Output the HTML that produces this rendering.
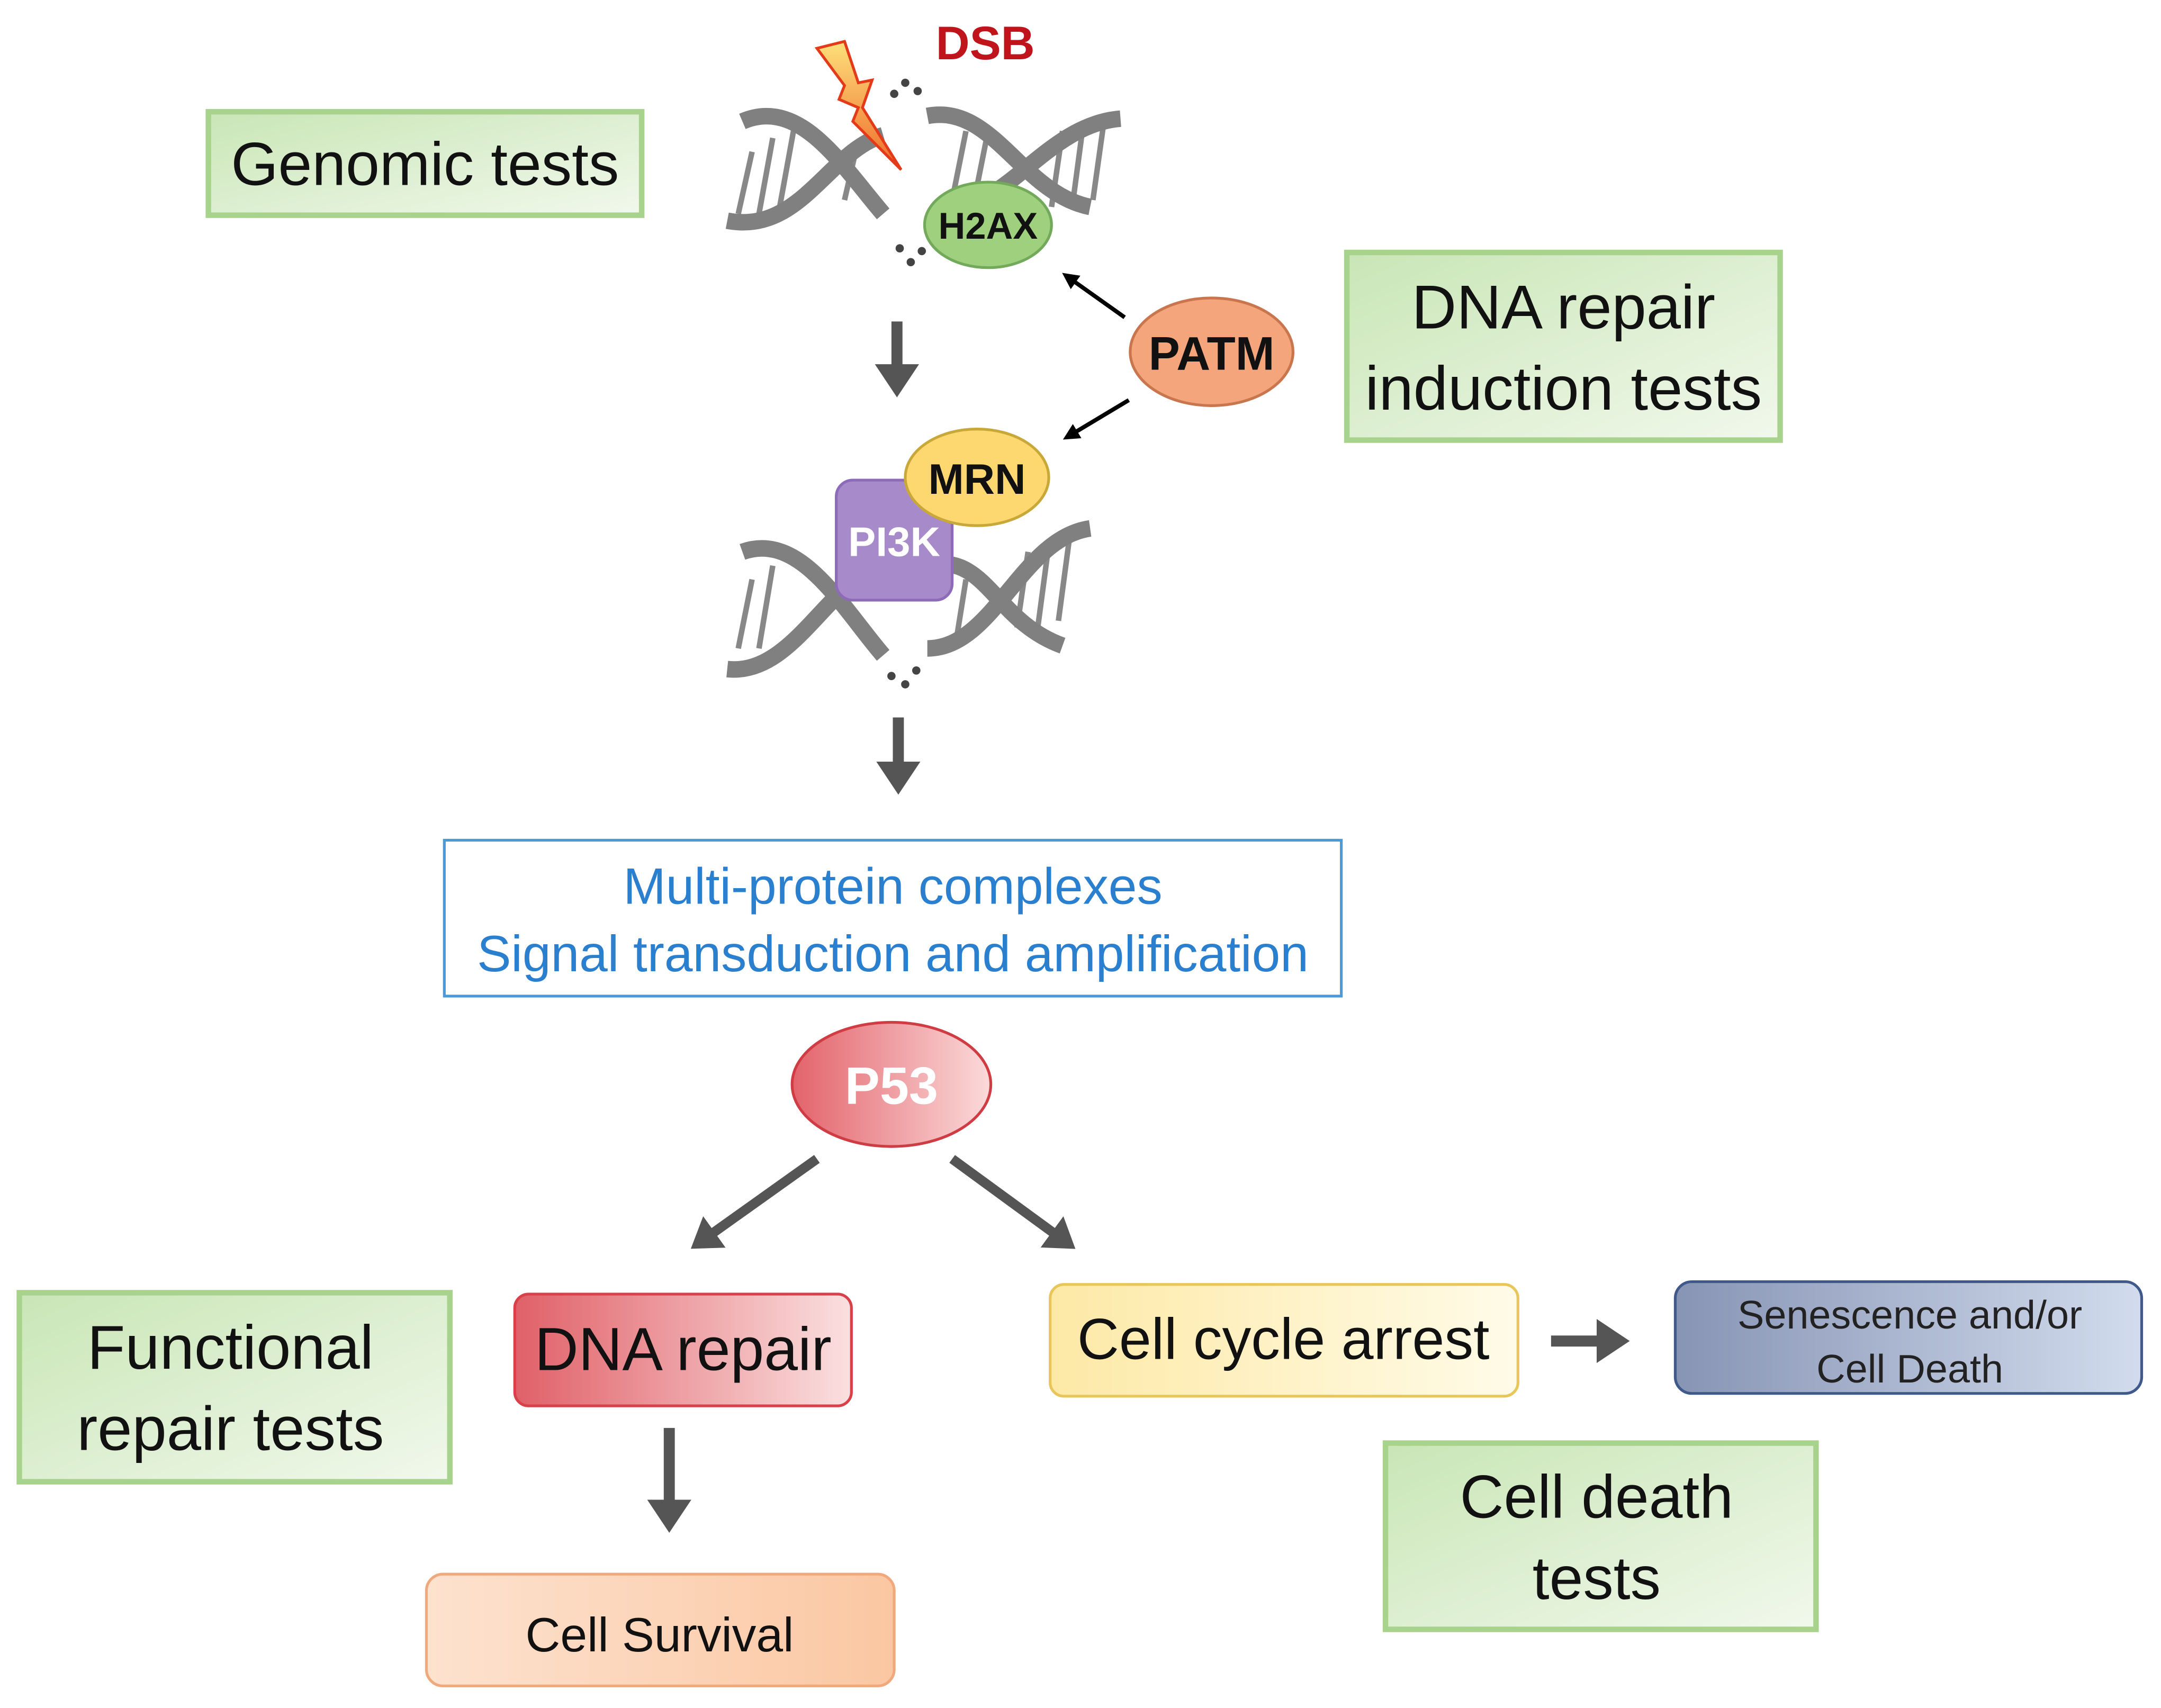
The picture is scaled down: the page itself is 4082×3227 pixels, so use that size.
<!DOCTYPE html>
<html><head><meta charset="utf-8"><style>html,body{margin:0;padding:0;background:#fff}svg{display:block}</style></head>
<body>
<svg width="4082" height="3227" viewBox="0 0 1566 1238" preserveAspectRatio="none" xmlns="http://www.w3.org/2000/svg" font-family="Liberation Sans, sans-serif">
<defs>
<linearGradient id="gr" x1="0" x2="1" y1="0" y2="1"><stop offset="0" stop-color="#c9e6b6"/><stop offset="1" stop-color="#f1f8ec"/></linearGradient>
<linearGradient id="red" x1="0" x2="1"><stop offset="0" stop-color="#e06068"/><stop offset="1" stop-color="#fbe0e0"/></linearGradient>
<linearGradient id="yel" x1="0" x2="1"><stop offset="0" stop-color="#fde9a6"/><stop offset="1" stop-color="#fffbe8"/></linearGradient>
<linearGradient id="org" x1="0" x2="1"><stop offset="0" stop-color="#fde2cf"/><stop offset="1" stop-color="#fbc7a2"/></linearGradient>
<linearGradient id="blu" x1="0" x2="1"><stop offset="0" stop-color="#8794b4"/><stop offset="1" stop-color="#d2dcee"/></linearGradient>
<linearGradient id="p53" x1="0" x2="1"><stop offset="0" stop-color="#e3636b"/><stop offset="1" stop-color="#fbdada"/></linearGradient>
<linearGradient id="bolt" x1="0" x2="0" y1="0" y2="1"><stop offset="0" stop-color="#fde07a"/><stop offset="1" stop-color="#ef6a2a"/></linearGradient>
<marker id="ah" markerWidth="4" markerHeight="4" refX="1" refY="2" orient="auto" markerUnits="strokeWidth"><path d="M0,0 L3,2 L0,4z" fill="#555"/></marker>
<marker id="ahb" markerWidth="5" markerHeight="5" refX="1" refY="2.5" orient="auto" markerUnits="strokeWidth"><path d="M0,0.5 L4,2.5 L0,4.5z" fill="#000"/></marker>
</defs>

<rect x="151" y="81" width="314" height="75" fill="url(#gr)" stroke="#a8d38d" stroke-width="4"/>
<text x="308" y="134" font-size="44" text-anchor="middle" fill="#111">Genomic tests</text>
<rect x="976" y="183" width="314" height="136" fill="url(#gr)" stroke="#a8d38d" stroke-width="4"/>
<text x="1133" y="238" font-size="45" text-anchor="middle" fill="#111">DNA repair</text>
<text x="1133" y="297" font-size="45" text-anchor="middle" fill="#111">induction tests</text>
<rect x="14" y="937" width="312" height="137" fill="url(#gr)" stroke="#a8d38d" stroke-width="4"/>
<text x="167" y="992" font-size="45" text-anchor="middle" fill="#111">Functional</text>
<text x="167" y="1051" font-size="45" text-anchor="middle" fill="#111">repair tests</text>
<rect x="1004" y="1046" width="312" height="135" fill="url(#gr)" stroke="#a8d38d" stroke-width="4"/>
<text x="1157" y="1100" font-size="44" text-anchor="middle" fill="#111">Cell death</text>
<text x="1157" y="1159" font-size="44" text-anchor="middle" fill="#111">tests</text>

<text x="714" y="43" font-size="34" font-weight="bold" text-anchor="middle" fill="#c0141c">DSB</text>

<g stroke="#888" stroke-width="4">
<line x1="545" y1="110" x2="535" y2="155"/><line x1="560" y1="100" x2="550" y2="155"/><line x1="575" y1="95" x2="565" y2="150"/><line x1="620" y1="110" x2="612" y2="145"/>
<line x1="700" y1="95" x2="690" y2="145"/><line x1="715" y1="100" x2="705" y2="150"/><line x1="770" y1="95" x2="762" y2="150"/><line x1="785" y1="90" x2="777" y2="150"/><line x1="800" y1="88" x2="792" y2="145"/>
</g>
<g fill="none" stroke="#808080" stroke-width="12" stroke-linecap="butt">
<path d="M538,88 C580,70 610,120 640,155"/>
<path d="M527,160 C580,170 600,110 640,98"/>
<path d="M672,84 C720,75 740,140 790,150"/>
<path d="M690,150 C730,150 760,90 812,86"/>
</g>
<path d="M592,35 L612,30 L622,60 L632,58 L625,78 L653,123 L618,88 L622,78 L608,72 L612,62 Z" fill="url(#bolt)" stroke="#e33a1a" stroke-width="2"/>
<g fill="#444"><circle cx="648" cy="68" r="3"/><circle cx="656" cy="60" r="3"/><circle cx="665" cy="66" r="3"/><circle cx="652" cy="180" r="3"/><circle cx="660" cy="190" r="3"/><circle cx="668" cy="182" r="3"/></g>
<ellipse cx="716" cy="163" rx="46" ry="31" fill="#9fd07e" stroke="#72a95a" stroke-width="2"/>
<text x="716" y="173" font-size="27" font-weight="bold" text-anchor="middle" fill="#111">H2AX</text>

<ellipse cx="878" cy="255" rx="59" ry="39" fill="#f4a57c" stroke="#c9764e" stroke-width="2"/>
<text x="878" y="268" font-size="34" font-weight="bold" text-anchor="middle" fill="#111">PATM</text>
<line x1="815" y1="230" x2="777" y2="203" stroke="#000" stroke-width="3" marker-end="url(#ahb)"/>
<line x1="818" y1="290" x2="778" y2="314" stroke="#000" stroke-width="3" marker-end="url(#ahb)"/>

<line x1="650" y1="233" x2="650" y2="272" stroke="#555" stroke-width="8" marker-end="url(#ah)"/>

<g stroke="#888" stroke-width="4">
<line x1="545" y1="420" x2="535" y2="470"/><line x1="560" y1="410" x2="550" y2="470"/><line x1="700" y1="420" x2="692" y2="470"/><line x1="745" y1="400" x2="737" y2="455"/><line x1="760" y1="395" x2="752" y2="455"/><line x1="775" y1="390" x2="767" y2="450"/>
</g>
<g fill="none" stroke="#808080" stroke-width="12">
<path d="M538,400 C580,385 610,440 640,475"/>
<path d="M527,485 C575,490 600,420 640,410"/>
<path d="M672,410 C715,400 720,450 770,468"/>
<path d="M672,470 C720,470 740,390 790,383"/>
</g>
<g fill="#444"><circle cx="646" cy="490" r="3"/><circle cx="656" cy="496" r="3"/><circle cx="664" cy="486" r="3"/></g>
<rect x="606" y="348" width="84" height="87" rx="12" fill="#a78ac9" stroke="#8d6bb8" stroke-width="2"/>
<text x="648" y="403" font-size="30" font-weight="bold" text-anchor="middle" fill="#fff">PI3K</text>
<ellipse cx="708" cy="346" rx="52" ry="35" fill="#fdd870" stroke="#c9a83a" stroke-width="2"/>
<text x="708" y="358" font-size="31" font-weight="bold" text-anchor="middle" fill="#111">MRN</text>

<line x1="651" y1="520" x2="651" y2="560" stroke="#555" stroke-width="8" marker-end="url(#ah)"/>

<rect x="322" y="609" width="650" height="113" fill="#fff" stroke="#4a9ad8" stroke-width="2"/>
<text x="647" y="655" font-size="37" text-anchor="middle" fill="#2a7fcf">Multi-protein complexes</text>
<text x="647" y="704" font-size="37" text-anchor="middle" fill="#2a7fcf">Signal transduction and amplification</text>

<ellipse cx="646" cy="786" rx="72" ry="45" fill="url(#p53)" stroke="#cf3c44" stroke-width="2"/>
<text x="646" y="800" font-size="38" font-weight="bold" text-anchor="middle" fill="#fff">P53</text>
<line x1="592" y1="840" x2="512" y2="897" stroke="#555" stroke-width="7" marker-end="url(#ah)"/>
<line x1="690" y1="840" x2="768" y2="897" stroke="#555" stroke-width="7" marker-end="url(#ah)"/>

<rect x="373" y="938" width="244" height="81" rx="10" fill="url(#red)" stroke="#d8414a" stroke-width="2"/>
<text x="495" y="993" font-size="44" text-anchor="middle" fill="#111">DNA repair</text>
<line x1="485" y1="1035" x2="485" y2="1095" stroke="#555" stroke-width="8" marker-end="url(#ah)"/>
<rect x="309" y="1141" width="339" height="81" rx="12" fill="url(#org)" stroke="#f0a97c" stroke-width="2"/>
<text x="478" y="1197" font-size="35" text-anchor="middle" fill="#111">Cell Survival</text>

<rect x="761" y="931" width="339" height="81" rx="10" fill="url(#yel)" stroke="#e9c65a" stroke-width="2"/>
<text x="930" y="985" font-size="42" text-anchor="middle" fill="#111">Cell cycle arrest</text>
<line x1="1124" y1="972" x2="1165" y2="972" stroke="#555" stroke-width="8" marker-end="url(#ah)"/>
<rect x="1214" y="929" width="338" height="81" rx="12" fill="url(#blu)" stroke="#3f5a8a" stroke-width="2"/>
<text x="1384" y="963" font-size="29" text-anchor="middle" fill="#222">Senescence and/or</text>
<text x="1384" y="1002" font-size="29" text-anchor="middle" fill="#222">Cell Death</text>
</svg>
</body></html>
